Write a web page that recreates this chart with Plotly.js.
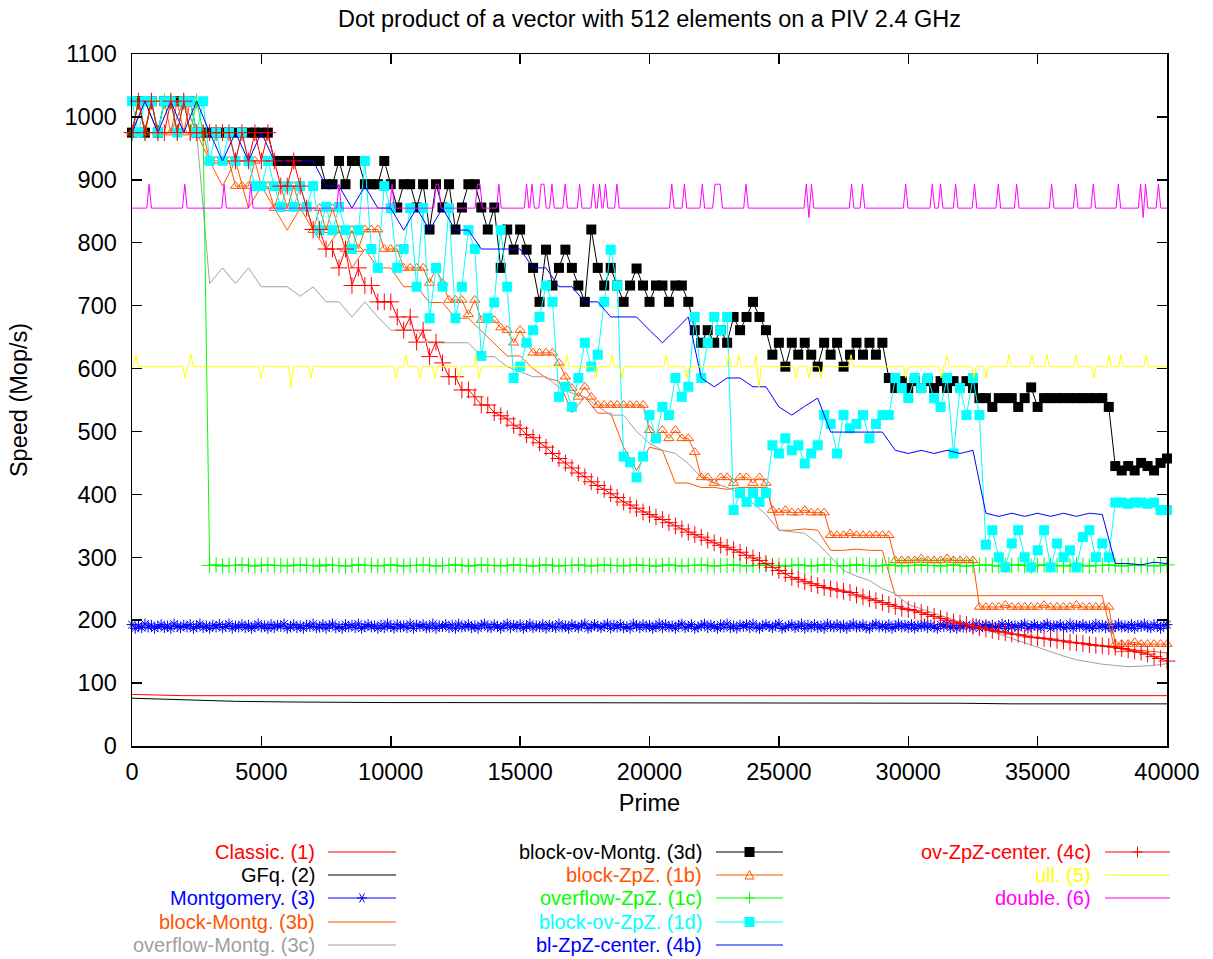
<!DOCTYPE html>
<html>
<head>
<meta charset="utf-8">
<script src="https://cdn.plot.ly/plotly-3.0.1.min.js"></script>
<style>
html,body{margin:0;padding:0;background:#fff;}
#chart{width:1213px;height:959px;}
</style>
</head>
<body>
<div id="chart"></div>
<script>
// ---------------- DATA ----------------
const TITLE = 'Dot product of a vector with 512 elements on a PIV 2.4 GHz';
const X_TITLE = 'Prime';
const Y_TITLE = 'Speed (Mop/s)';
const X_TICKS = [0, 5000, 10000, 15000, 20000, 25000, 30000, 35000, 40000];
const Y_TICKS = [0, 100, 200, 300, 400, 500, 600, 700, 800, 900, 1000, 1100];

// sampled every 2000 from 0
const CLASSIC = [82,80,80,80,80,80,80,80,80,80,80,80,80,80,80,80,80,80,80,80,80];
const GFQ = [76,73,71,70,69,69,69,69,69,68,68,68,68,68,68,68,68,67,67,67,67];

// sampled every 125 from 0
const MONTGOMERY = [
193,187,191,188,194,189,192,187,190,193,188,191,187,194,190,188,192,189,193,187,
190,194,188,191,187,192,189,193,188,190,194,187,191,189,193,188,192,187,190,194,
189,191,187,193,188,192,190,194,187,189,193,188,191,187,192,190,194,188,189,193,
187,191,194,188,190,187,193,189,192,188,194,187,190,193,189,191,187,192,188,194,
190,187,193,189,191,188,194,187,192,190,193,188,189,194,187,191,190,193,188,192,
187,194,189,190,193,188,191,187,192,194,189,188,193,190,187,191,194,188,192,189,
193,187,190,194,188,191,189,193,187,192,190,188,194,189,191,187,193,190,188,192,
194,187,189,193,190,188,191,194,187,192,189,193,188,190,187,194,191,188,193,189,
192,187,190,194,188,193,189,191,187,192,194,188,190,193,187,189,191,194,188,192,
190,187,193,189,194,188,191,187,192,190,193,188,194,189,187,191,193,190,188,192,
194,187,189,191,193,188,190,194,187,192,189,193,188,191,187,194,190,189,193,188,
192,187,191,194,189,190,193,188,187,192,194,189,191,188,193,187,190,194,189,192,
188,193,187,191,190,194,188,192,189,187,193,190,194,188,191,187,192,189,193,190,
188,194,187,191,193,189,192,188,190,194,187,193,189,191,188,192,194,187,190,193,
189,188,192,194,187,191,190,193,188,189,194,187,192,190,193,188,191,187,194,189,
192,188,193,187,190,194,189,191,188,193,187,192,190,194,189,188,193,191,187,192,
193];

// sampled every 250 from 0
const OVERFLOW_ZPZ = [
975,1025,975,1025,975,1025,1025,975,1025,975,1025,975,
287,288,286,287,287,288,287,286,287,288,287,287,286,287,288,287,287,286,288,287,
287,286,287,288,287,287,286,287,288,287,286,287,287,288,287,286,287,287,288,287,
286,287,288,287,287,286,287,288,287,287,286,287,288,287,286,287,287,288,287,286,
287,288,287,287,286,287,288,287,287,286,287,288,287,286,287,287,288,287,286,287,
287,288,287,286,287,287,288,287,287,286,287,288,287,286,287,288,287,287,286,287,
288,287,287,286,287,288,287,286,287,287,288,287,287,286,287,288,287,286,287,287,
288,287,286,287,287,288,287,286,287,288,287,287,286,287,288,287,286,287,287,288,
287,286,287,288,287,287,286,287,288];

const OV_ZPZ_CENTER = [
975,1025,975,1025,975,975,1025,975,1025,975,975,975,975,975,975,975,930,975,930,975,
930,975,930,890,890,930,890,855,821,821,790,790,760,790,732,760,732,732,706,706,
706,682,661,682,642,661,619,642,609,587,587,566,566,555,542,542,530,525,520,510,
505,495,490,482,475,465,457,450,442,434,428,420,414,408,401,395,388,383,378,372,
368,364,360,355,350,345,340,336,332,327,323,319,316,312,308,303,299,295,290,284,
279,274,268,265,261,258,255,252,250,248,246,244,240,237,234,231,228,225,222,219,
217,215,212,209,206,203,200,197,195,193,190,188,186,184,182,180,178,177,175,173,
172,171,170,168,167,165,164,163,161,160,159,158,157,155,153,151,149,146,142,139,
135];

const BLOCK_OV_MONTG = [
975,1025,975,1025,975,1025,1025,1025,1025,1025,975,975,975,975,975,975,975,975,975,975,
975,975,930,930,930,930,930,930,930,930,893,893,930,893,930,930,893,893,893,930,
893,856,893,893,856,893,821,893,856,893,821,856,893,893,856,821,856,760,821,789,
821,789,760,706,789,732,760,789,760,732,706,821,760,732,760,732,706,732,759,732,
706,732,732,706,732,732,706,661,641,661,641,661,641,682,661,682,706,682,661,622,
641,603,641,622,641,622,603,641,622,641,603,622,641,622,641,622,641,585,569,580,
569,580,569,580,569,580,569,580,569,580,569,553,553,539,553,553,553,539,553,570,
539,553,553,553,553,553,553,553,553,553,553,539,445,438,445,438,450,445,438,450,
457];

const BLOCK_ZPZ = [
975,1025,975,1025,975,1025,975,1025,975,1025,975,975,930,930,930,930,890,890,890,930,
890,890,855,890,855,890,855,855,820,855,820,855,820,790,820,790,821,821,821,790,
790,790,760,760,760,760,736,760,736,709,709,709,686,709,677,677,677,665,661,641,
661,641,625,625,625,625,609,587,569,555,571,555,542,542,542,542,542,542,542,542,
502,489,502,489,502,489,489,467,427,427,418,427,427,418,427,427,418,427,418,375,
371,375,371,371,375,371,371,371,335,335,335,338,335,335,335,335,335,335,295,295,
295,295,298,295,295,295,298,295,295,295,295,221,221,221,221,224,221,221,221,221,
221,224,221,221,221,221,224,221,221,221,221,221,162,162,162,165,162,162,162,162,
162];

const BLOCK_OV_ZPZ = [
1025,975,1025,1025,975,1025,1025,975,1025,1025,975,1025,930,975,930,975,930,975,930,890,
890,930,890,857,890,857,890,857,890,820,857,820,857,820,790,820,930,790,760,890,
855,760,790,855,730,855,680,760,730,855,680,730,820,790,620,680,705,820,730,585,
603,641,661,682,732,706,555,571,539,585,641,603,622,706,789,732,460,451,427,460,
526,489,539,526,585,555,571,682,585,641,682,661,682,375,402,388,402,388,402,478,
465,489,470,478,449,465,478,526,512,465,526,505,512,526,489,512,526,526,585,569,
553,585,569,585,553,539,585,465,569,526,585,526,320,343,300,284,322,343,300,284,
311,343,284,322,300,311,284,332,343,300,322,300,387,387,385,387,387,385,387,375,
375];

// sampled every 500 from 0
const BLOCK_MONTG = [
975,1025,975,975,1025,975,930,
890,930,855,890,855,820,855,820,790,820,760,790,760,760,
730,730,705,705,680,680,660,640,620,620,600,585,580,530,
555,529,529,475,438,475,470,418,418,411,411,408,411,411,
411,343,343,345,343,311,311,313,311,311,239,239,239,239,
239,239,239,239,239,239,239,239,239,239,239,239,239,
150,150,152,150,148];

const OVERFLOW_MONTG = [
975,1025,975,975,1025,975,735,
760,735,760,730,730,730,715,730,706,706,682,706,682,661,
661,661,641,641,641,641,619,619,603,595,587,587,570,561,
555,540,526,526,500,481,470,465,449,427,418,411,402,386,
368,343,341,338,322,300,279,270,263,250,242,225,218,210,
203,197,190,185,178,170,163,157,150,143,137,133,130,
128,126,127,128,131];

const BL_ZPZ_CENTER = [
975,1025,975,1025,975,1025,975,
930,975,930,975,930,930,930,930,890,890,855,890,855,855,
820,855,820,855,820,820,790,790,789,790,760,760,730,730,
706,706,682,682,682,661,641,661,682,585,571,585,585,571,
571,539,526,540,553,499,499,499,499,499,470,465,470,465,
470,465,470,370,365,370,365,370,365,370,365,370,368,
290,290,288,292,290];

// explicit (prime, speed) samples
const ULL_X = [0,60,150,240,1960,2050,2160,2280,2370,4900,4990,5080,6060,6150,6240,6830,6920,7010,
10110,10200,10290,10500,10590,10680,11040,11130,11220,11610,11700,11790,12550,12640,12730,
13200,13290,13410,13500,16710,16800,16890,17840,17930,18020,18460,18550,18640,18850,18940,19030,
20550,20640,20730,21360,21450,21540,22980,23070,23160,23370,23460,23550,24030,24120,24230,24320,
25570,25660,25750,26070,26160,26250,26540,26630,26720,27700,27790,27880,29810,29900,29990,
31180,31270,31360,31410,31500,31590,32450,32540,32630,32910,33000,33090,33800,33890,33980,
34690,34780,34870,35270,35360,35450,36390,36480,36570,37090,37180,37270,37670,37760,37850,
38130,38220,38310,39100,39190,39280,40000];
const ULL_Y = [603,603,622,603,603,585,603,622,603,603,585,603,603,569,603,603,585,603,
603,585,603,603,622,603,603,585,603,603,585,603,603,585,603,
603,622,585,603,603,622,603,603,585,603,603,622,603,603,585,603,
603,622,603,603,585,603,603,622,603,603,622,603,603,622,569,603,
603,585,603,603,585,603,603,585,603,603,622,603,603,585,603,
603,585,603,603,622,603,603,585,603,603,585,603,603,622,603,
603,622,603,603,622,603,603,622,603,603,585,603,603,622,603,
603,622,603,603,622,603,603];

const DOUBLE_X = [0,570,660,750,1950,2040,2130,3470,3560,3650,4500,4590,4680,7910,8000,8090,
9960,10050,10140,11660,11750,11850,11940,13260,13350,13450,13540,14090,14180,14270,
15160,15250,15340,15370,15460,15550,15720,15810,15920,16010,16140,16230,16320,16650,16740,16830,
17210,17300,17390,17740,17830,17920,17980,18070,18160,18210,18300,18390,18650,18740,18830,
20770,20860,20950,21260,21350,21440,21950,22040,22130,22440,22530,22730,22820,23640,23730,23820,
25970,26060,26160,26260,26350,27720,27810,27900,28140,28230,28320,29810,29900,29990,
30840,30930,31020,31160,31250,31340,31740,31830,31920,32470,32560,32650,33390,33480,33570,
34100,34190,34280,35450,35540,35630,36380,36470,36560,37060,37150,37240,38030,38120,38210,
38890,38980,39080,39170,39260,39580,39670,39760,40000];
const DOUBLE_Y = [855,855,893,855,855,893,855,855,893,855,855,893,855,855,893,855,
855,893,855,855,893,893,855,855,893,893,855,855,893,855,
855,893,855,855,893,855,855,893,893,855,855,893,855,855,893,855,
855,893,855,855,893,855,855,893,855,855,893,855,855,893,855,
855,893,855,855,893,855,855,893,855,855,893,893,855,855,893,855,
855,893,840,893,855,855,893,855,855,893,855,855,893,855,
855,893,855,855,893,855,855,893,855,855,893,855,855,893,855,
855,893,855,855,893,855,855,893,855,855,893,855,855,893,855,
855,893,840,893,855,855,893,855,855];

// ---------------- STYLE ----------------
const COL = {
  red:'#ff0000', black:'#000000', blue:'#0000ff', orange:'#ff5500', gray:'#a0a0a0',
  green:'#00ff00', cyan:'#00ffff', yellow:'#ffff00', magenta:'#ff00ff'
};
const FONT = 'Liberation Sans, Arial, Helvetica, sans-serif';
const FS = 23.5;      // title, axis titles, tick labels
const LEG_FS = 20;    // legend entries

function line(name, y, x0, dx, color, extra) {
  const t = {type:'scatter', mode:'lines', name:name, y:y, x0:x0, dx:dx,
    line:{color:color, width:1}, cliponaxis:false, hoverinfo:'skip'};
  return Object.assign(t, extra || {});
}
function mkMarker(symbol, size, color, filled) {
  return {symbol:symbol, size:size, color:color,
          line:{color:color, width: filled ? 0 : 1}};
}

const traces = [
  line('Classic. (1)', CLASSIC, 0, 2000, COL.red),
  line('GFq. (2)', GFQ, 0, 2000, COL.black),
  line('Montgomery. (3)', MONTGOMERY, 0, 125, COL.blue,
       {mode:'lines+markers', marker:mkMarker('asterisk-open', 9, COL.blue, false)}),
  line('block-Montg. (3b)', BLOCK_MONTG, 0, 500, COL.orange),
  line('overflow-Montg. (3c)', OVERFLOW_MONTG, 0, 500, COL.gray),
  line('block-ov-Montg. (3d)', BLOCK_OV_MONTG, 0, 250, COL.black,
       {mode:'lines+markers', marker:mkMarker('square', 10, COL.black, true)}),
  line('block-ZpZ. (1b)', BLOCK_ZPZ, 0, 250, COL.orange,
       {mode:'lines+markers', marker:mkMarker('triangle-up-open', 9, COL.orange, false)}),
  line('overflow-ZpZ. (1c)', OVERFLOW_ZPZ, 0, 250, COL.green,
       {mode:'lines+markers', marker:mkMarker('cross-thin-open', 11, COL.green, false)}),
  line('block-ov-ZpZ. (1d)', BLOCK_OV_ZPZ, 0, 250, COL.cyan,
       {mode:'lines+markers', marker:mkMarker('square', 10, COL.cyan, true)}),
  line('bl-ZpZ-center. (4b)', BL_ZPZ_CENTER, 0, 500, COL.blue),
  line('ov-ZpZ-center. (4c)', OV_ZPZ_CENTER, 0, 250, COL.red,
       {mode:'lines+markers', marker:mkMarker('cross-thin-open', 12, COL.red, false)}),
  {type:'scatter', mode:'lines', name:'ull. (5)', x:ULL_X, y:ULL_Y,
   line:{color:COL.yellow, width:1}, cliponaxis:false, hoverinfo:'skip'},
  {type:'scatter', mode:'lines', name:'double. (6)', x:DOUBLE_X, y:DOUBLE_Y,
   line:{color:COL.magenta, width:1}, cliponaxis:false, hoverinfo:'skip'}
];

// ---------------- LEGEND (text right-aligned, sample to the right) ----------------
const M = {l:132, r:46, t:54, b:213};
const PW = 1213 - M.l - M.r, PH = 959 - M.t - M.b;
const px2x = px => (px - M.l) / PW;
const py2y = py => (959 - M.b - py) / PH;

const LEG_ROWS = [852, 875, 898, 922, 945];
const LEG_COLS = [
  {textRight:316, l0:328, l1:396},
  {textRight:703, l0:716, l1:783},
  {textRight:1092, l0:1105, l1:1170}
];
const LEGEND = [
  ['Classic. (1)', COL.red, 0, 0, null],
  ['GFq. (2)', COL.black, 0, 1, null],
  ['Montgomery. (3)', COL.blue, 0, 2, 'asterisk'],
  ['block-Montg. (3b)', COL.orange, 0, 3, null],
  ['overflow-Montg. (3c)', COL.gray, 0, 4, null],
  ['block-ov-Montg. (3d)', COL.black, 1, 0, 'square'],
  ['block-ZpZ. (1b)', COL.orange, 1, 1, 'triangle'],
  ['overflow-ZpZ. (1c)', COL.green, 1, 2, 'plus'],
  ['block-ov-ZpZ. (1d)', COL.cyan, 1, 3, 'square'],
  ['bl-ZpZ-center. (4b)', COL.blue, 1, 4, null],
  ['ov-ZpZ-center. (4c)', COL.red, 2, 0, 'plus'],
  ['ull. (5)', COL.yellow, 2, 1, null],
  ['double. (6)', COL.magenta, 2, 2, null]
];

const annotations = [];
const shapes = [];
LEGEND.forEach(([label, color, c, r, sym]) => {
  const col = LEG_COLS[c], py = LEG_ROWS[r];
  annotations.push({xref:'paper', yref:'paper', x:px2x(col.textRight), y:py2y(py),
    xanchor:'right', yanchor:'middle', showarrow:false, text:label, borderpad:0,
    font:{family:FONT, size:LEG_FS, color:color}});
  shapes.push({type:'line', xref:'paper', yref:'paper', x0:px2x(col.l0), x1:px2x(col.l1),
    y0:py2y(py), y1:py2y(py), line:{color:color, width:1.2}});
  if (sym) {
    const base = {xref:'paper', yref:'paper', xsizemode:'pixel', ysizemode:'pixel',
      xanchor:px2x((col.l0 + col.l1) / 2), yanchor:py2y(py)};
    if (sym === 'square') {
      shapes.push(Object.assign({type:'rect', x0:-5, x1:5, y0:-5, y1:5,
        fillcolor:color, line:{width:0}}, base));
    } else if (sym === 'triangle') {
      shapes.push(Object.assign({type:'path', path:'M -4.5 -4 L 4.5 -4 L 0 4.5 Z',
        line:{color:color, width:1}}, base));
    } else if (sym === 'plus') {
      shapes.push(Object.assign({type:'path', path:'M -5 0 L 5 0 M 0 -5.5 L 0 5.5',
        line:{color:color, width:1}}, base));
    } else if (sym === 'asterisk') {
      shapes.push(Object.assign({type:'path',
        path:'M -5 0 L 5 0 M -2.5 -4.5 L 2.5 4.5 M -2.5 4.5 L 2.5 -4.5',
        line:{color:color, width:1}}, base));
    }
  }
});

const axisCommon = {
  showline:true, linecolor:'#000', linewidth:1.5, mirror:'ticks',
  ticks:'inside', ticklen:10, tickwidth:1.5, tickcolor:'#000',
  showgrid:false, zeroline:false, fixedrange:true,
  tickfont:{family:FONT, size:FS, color:'#000'}
};

const layout = {
  width:1213, height:959,
  margin:M,
  paper_bgcolor:'#ffffff', plot_bgcolor:'#ffffff',
  showlegend:false,
  font:{family:FONT, size:FS, color:'#000'},
  title:{text:TITLE, xref:'paper', x:0.5, xanchor:'center',
         yref:'container', y:1 - 19/959, yanchor:'middle',
         font:{family:FONT, size:FS, color:'#000'}},
  xaxis:Object.assign({}, axisCommon, {
    range:[0, 40000], tickvals:X_TICKS, ticktext:X_TICKS.map(String),
    ticklabelstandoff:4,
    title:{text:X_TITLE, standoff:11, font:{family:FONT, size:FS, color:'#000'}}
  }),
  yaxis:Object.assign({}, axisCommon, {
    range:[0, 1100], tickvals:Y_TICKS, ticktext:Y_TICKS.map(String),
    ticklabelstandoff:9,
    title:{text:Y_TITLE, standoff:30, font:{family:FONT, size:FS, color:'#000'}}
  }),
  annotations:annotations,
  shapes:shapes
};

Plotly.newPlot('chart', traces, layout, {staticPlot:true, displayModeBar:false});
</script>
</body>
</html>
